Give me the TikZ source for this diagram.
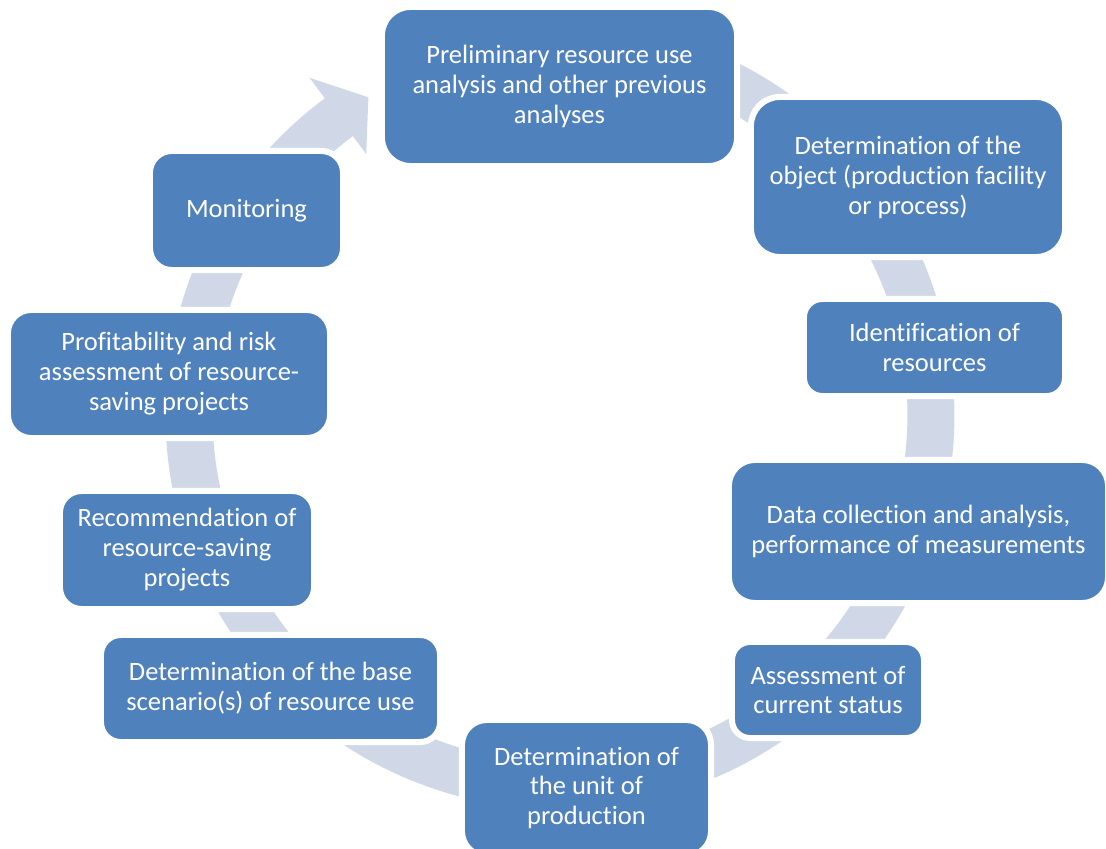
\documentclass[tikz,border=0pt]{standalone}
\usepackage{fontspec}
\setmainfont{Carlito}[Ligatures=NoCommon]
\usetikzlibrary{calc}
\definecolor{boxblue}{RGB}{79,129,189}
\definecolor{ringcol}{RGB}{208,216,232}
\begin{document}
\begin{tikzpicture}[x=0.025cm,y=0.025cm,
  stepbox/.style={rectangle, fill=boxblue, draw=white, line width=0.15cm,
    text=white, align=center, inner sep=0pt,
    font=\fontsize{18.85pt}{21.3pt}\selectfont},
  ring/.style={fill=ringcol, draw=none}]
\useasboundingbox (0,0) rectangle (1106,849);
\fill[white] (0,0) rectangle (1106,849);
% circular arrow (shaft)
\fill[ring]
  plot[domain=105:-234, samples=200, variable=\t] ({560+394.5*cos(\t)},{434+394.5*sin(\t)})
  -- plot[domain=-234:105, samples=200, variable=\t] ({560+347.5*cos(\t)},{434+347.5*sin(\t)})
  -- cycle;
% arrow head
\coordinate (hc) at (560,434);
\fill[ring] ($(hc)+(126.6:420)$) -- ($(hc)+(121.1:371)$) -- ($(hc)+(126.6:325)$) -- cycle;
% boxes
\node[stepbox, minimum width=8.875cm, minimum height=3.975cm, rounded corners=0.71cm] (b1) at (559.5,762.5)
  {Preliminary resource use\\analysis and other previous\\analyses};
\node[stepbox, minimum width=7.85cm, minimum height=4.0cm, rounded corners=0.72cm] (b2) at (908,672)
  {Determination of the\\object (production facility\\or process)};
\node[stepbox, minimum width=6.525cm, minimum height=2.425cm, rounded corners=0.455cm] (b3) at (934.5,501.5)
  {Identification of\\resources};
\node[stepbox, minimum width=9.475cm, minimum height=3.575cm, rounded corners=0.645cm] (b4) at (918.5,317.5)
  {Data collection and analysis,\\performance of measurements};
\node[stepbox, minimum width=4.8cm, minimum height=2.4cm, rounded corners=0.45cm] (b5) at (828,159)
  {Assessment of\\current status};
\node[stepbox, minimum width=6.225cm, minimum height=3.4cm, rounded corners=0.62cm] (b6) at (586.5,61)
  {Determination of\\the unit of\\production};
\node[stepbox, minimum width=8.475cm, minimum height=2.675cm, rounded corners=0.495cm] (b7) at (270.5,160.5)
  {Determination of the base\\scenario(s) of resource use};
\node[stepbox, minimum width=6.35cm, minimum height=2.95cm, rounded corners=0.54cm] (b8) at (187,299)
  {Recommendation of\\resource-saving\\projects};
\node[stepbox, minimum width=8.05cm, minimum height=3.2cm, rounded corners=0.58cm] (b9) at (169,475)
  {Profitability and risk\\assessment of resource-\\saving projects};
\node[stepbox, minimum width=4.825cm, minimum height=2.975cm, rounded corners=0.545cm] (b10) at (246.5,638.5)
  {Monitoring};
\end{tikzpicture}
\end{document}
